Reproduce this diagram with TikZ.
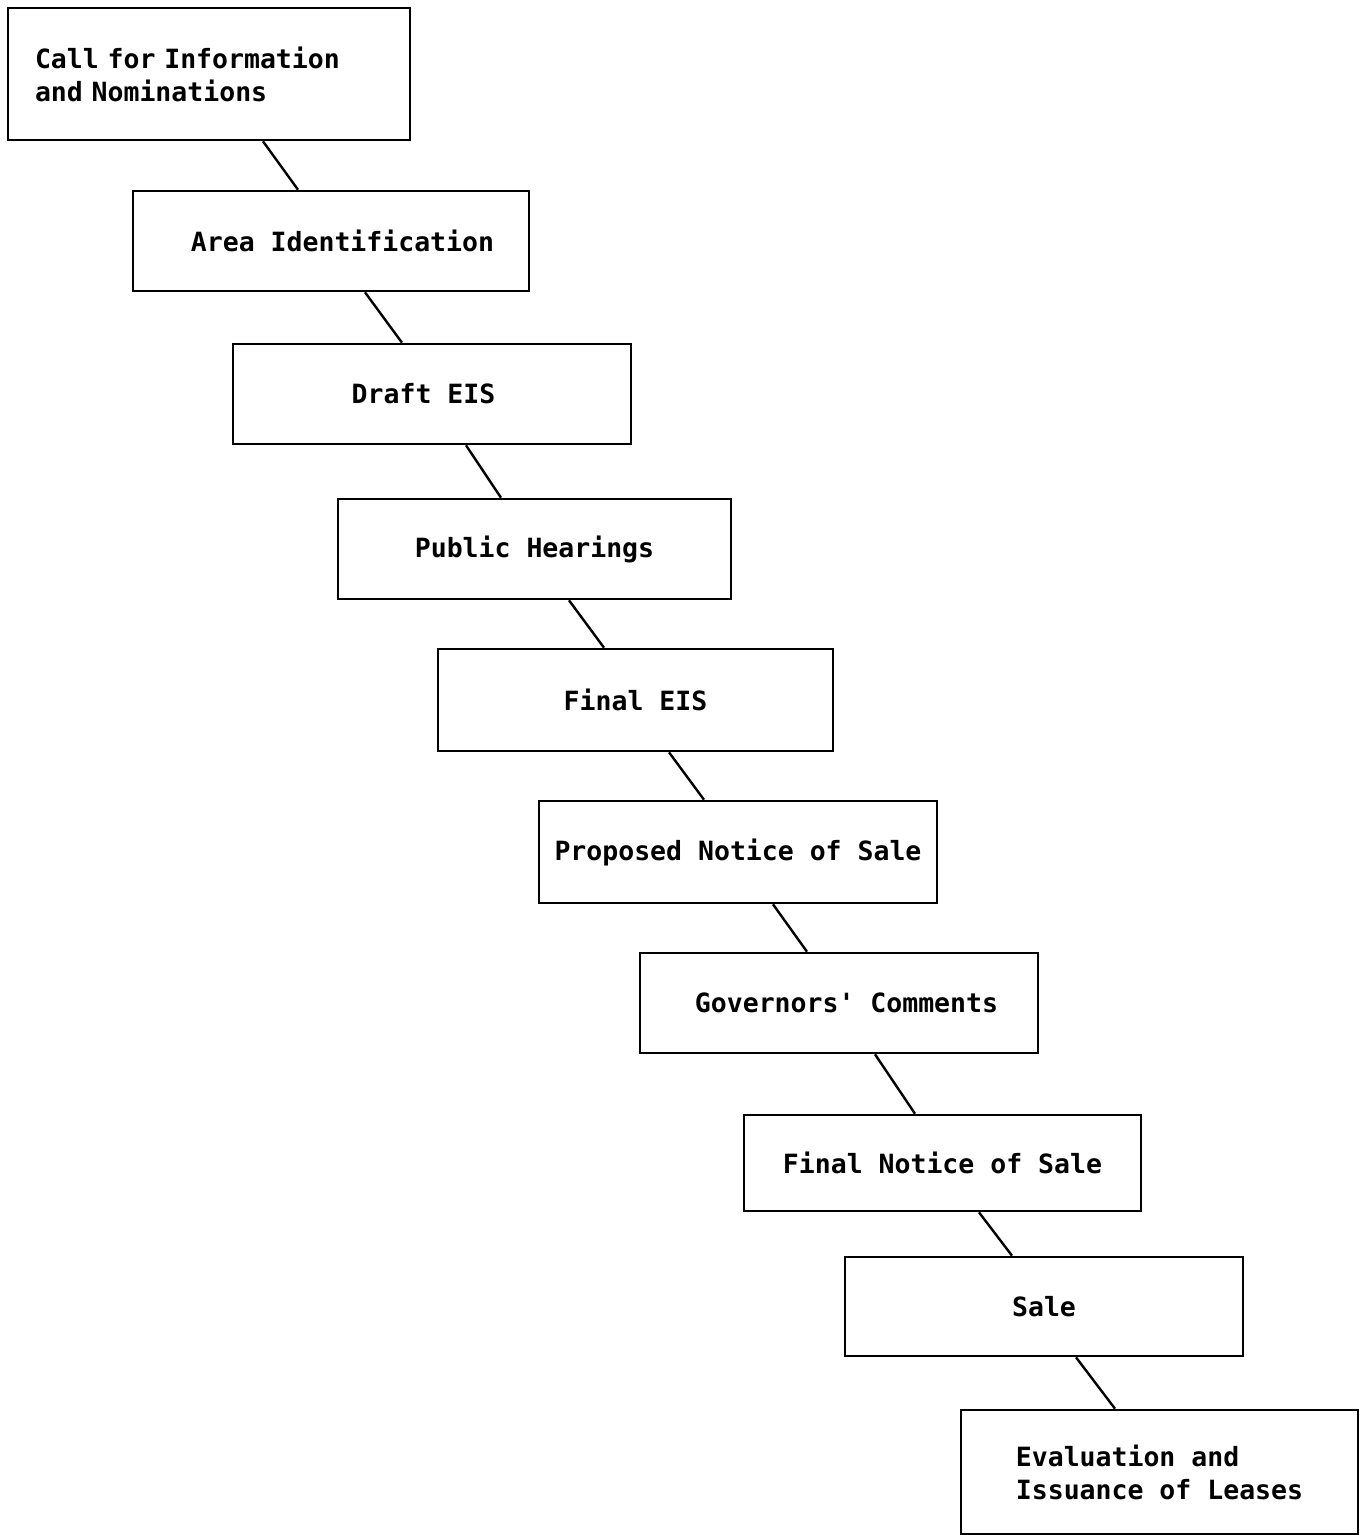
\documentclass[tikz,border=0pt]{standalone}
\usepackage{fontspec}
\newfontfamily\boxfont{DejaVu Sans Mono}
\usetikzlibrary{calc}
\tikzset{
  stage/.style={draw=black, line width=2.6pt, fill=white, inner sep=0pt,
    font=\boxfont\bfseries\fontsize{26.5}{33}\selectfont, align=center},
  link/.style={draw=black, line width=2.4pt}
}
\begin{document}
\begin{tikzpicture}[x=1pt,y=-1pt]
\useasboundingbox[fill=white] (0,0) rectangle (1360,1535);
\node[stage, minimum width=402pt, minimum height=132pt, text width=348pt, inner xsep=27pt, align=left] (b1) at (209,74) {\mbox{Call for Information}\\\mbox{and Nominations}};
\node[stage, minimum width=396pt, minimum height=100pt] (b2) at (331,241) {\hspace*{23pt}Area Identification};
\node[stage, minimum width=398pt, minimum height=100pt] (b3) at (432,394) {\hspace*{-17pt}Draft EIS};
\node[stage, minimum width=393pt, minimum height=100pt] (b4) at (534.5,549) {Public Hearings};
\node[stage, minimum width=395pt, minimum height=102pt] (b5) at (635.5,700) {Final EIS};
\node[stage, minimum width=398pt, minimum height=102pt] (b6) at (738,852) {Proposed Notice of Sale};
\node[stage, minimum width=398pt, minimum height=100pt] (b7) at (839,1003) {\hspace*{15pt}Governors' Comments};
\node[stage, minimum width=397pt, minimum height=96pt] (b8) at (942.5,1163) {Final Notice of Sale};
\node[stage, minimum width=398pt, minimum height=99pt] (b9) at (1044,1306.5) {Sale};
\node[stage, minimum width=397pt, minimum height=124pt, align=left] (b10) at (1159.5,1472) {Evaluation and\\Issuance of Leases};
\draw[link] ([xshift=54pt]b1.south) -- ([xshift=-33pt]b2.north);
\draw[link] ([xshift=34pt]b2.south) -- ([xshift=-30pt]b3.north);
\draw[link] ([xshift=34pt]b3.south) -- ([xshift=-33.5pt]b4.north);
\draw[link] ([xshift=34.5pt]b4.south) -- ([xshift=-31.5pt]b5.north);
\draw[link] ([xshift=33.5pt]b5.south) -- ([xshift=-34pt]b6.north);
\draw[link] ([xshift=35pt]b6.south) -- ([xshift=-32pt]b7.north);
\draw[link] ([xshift=36pt]b7.south) -- ([xshift=-27.5pt]b8.north);
\draw[link] ([xshift=36.5pt]b8.south) -- ([xshift=-32pt]b9.north);
\draw[link] ([xshift=32pt]b9.south) -- ([xshift=-44.5pt]b10.north);
\end{tikzpicture}
\end{document}
